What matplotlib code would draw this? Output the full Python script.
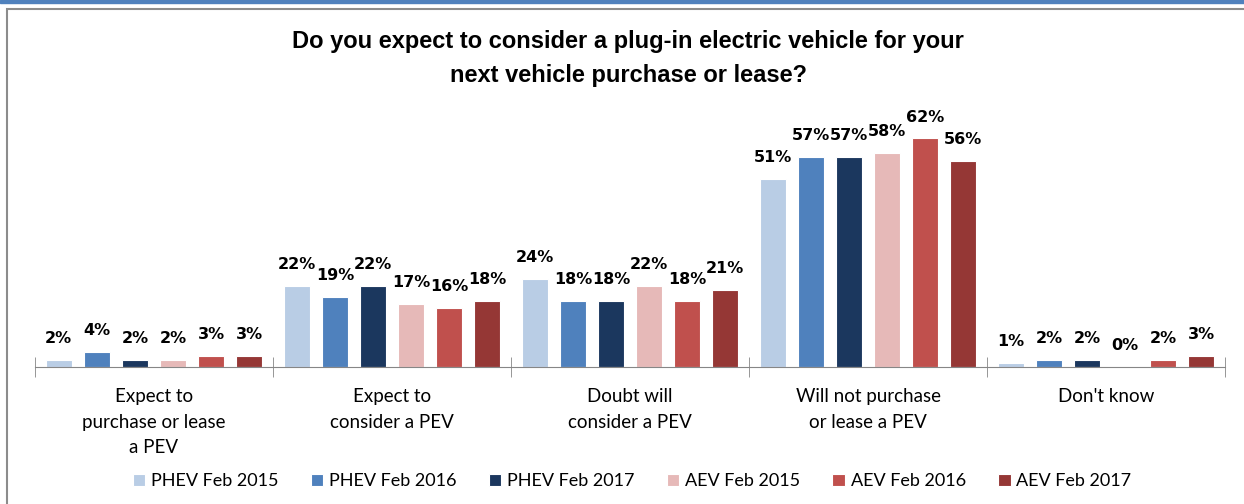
import matplotlib.pyplot as plt
import matplotlib.patches as patches
from matplotlib.ticker import FixedLocator
import numpy as np

# data
categories = ['Expect to\npurchase or lease\na PEV', 'Expect to\nconsider a PEV',
              'Doubt will\nconsider a PEV', 'Will not purchase\nor lease a PEV', "Don't know"]
series_names = ['PHEV Feb 2015', 'PHEV Feb 2016', 'PHEV Feb 2017',
                'AEV Feb 2015', 'AEV Feb 2016', 'AEV Feb 2017']
phev_2015 = [2, 22, 24, 51, 1]
phev_2016 = [4, 19, 18, 57, 2]
phev_2017 = [2, 22, 18, 57, 2]
aev_2015 = [2, 17, 22, 58, 0]
aev_2016 = [3, 16, 18, 62, 2]
aev_2017 = [3, 18, 21, 56, 3]
series_values = [phev_2015, phev_2016, phev_2017, aev_2015, aev_2016, aev_2017]
colors = ['#B9CDE5', '#4F81BD', '#1B375E', '#E6B9B8', '#C0504D', '#953735']

fig = plt.figure(figsize=(12.44, 5.04), dpi=100)

# outer frame like the screenshot
fig.patches.append(patches.Rectangle((0, 1 - 3 / 504), 1, 3 / 504, transform=fig.transFigure,
                                     color='#4F81BD', zorder=0))
fig.patches.append(patches.Rectangle((7 / 1244, -0.05), 1.1, 1 - 9 / 504 + 0.05,
                                     transform=fig.transFigure, facecolor='none',
                                     edgecolor='#8C8C8C', linewidth=1.5, zorder=0))

ax = fig.add_axes([35 / 1244, (504 - 367) / 504, 1190 / 1244, 258 / 504])

pitch = 0.16
width = 0.11
x = np.arange(len(categories))
for i, (name, vals) in enumerate(zip(series_names, series_values)):
    pos = x + (i - 2.5) * pitch
    bars = ax.bar(pos, vals, width=width, color=colors[i], edgecolor='white',
                  linewidth=0.8, label=name)
    for b, v in zip(bars, vals):
        ax.annotate(f'{v}%', (b.get_x() + b.get_width() / 2, v), xytext=(0, 10),
                    textcoords='offset points', ha='center', va='bottom',
                    fontsize=11.5, fontweight='bold', family='DejaVu Sans')

ax.set_xlim(-0.5, len(categories) - 0.5)
ax.set_ylim(0, 70)
for s in ['top', 'right', 'left']:
    ax.spines[s].set_visible(False)
ax.spines['bottom'].set_color('#868686')
ax.set_yticks([])
ax.set_xticks(x)
ax.set_xticklabels(categories, fontsize=13.5, family='Lato', linespacing=1.62)
ax.tick_params(axis='x', which='major', length=0, pad=15)
ax.xaxis.set_minor_locator(FixedLocator(np.arange(-0.5, len(categories), 1)))
ax.tick_params(axis='x', which='minor', direction='inout', length=14, color='#868686')

fig.text(0.505, 0.94, 'Do you expect to consider a plug-in electric vehicle for your\nnext vehicle purchase or lease?',
         ha='center', va='top', fontsize=17, fontweight='bold', family='Liberation Sans',
         linespacing=1.6)

fig.legend(loc='center', bbox_to_anchor=(0.508, 0.045), ncol=6, frameon=False,
           prop={'family': 'Lato', 'size': 13}, handlelength=0.7, handleheight=0.7,
           handletextpad=0.3, columnspacing=1.8)

fig.savefig('out.png', dpi=100)
